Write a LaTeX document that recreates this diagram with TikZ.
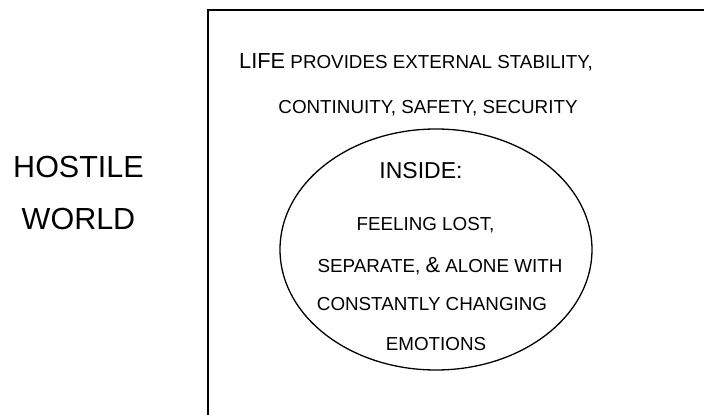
\documentclass[tikz,border=0pt]{standalone}
\usepackage{fontspec}
\setmainfont{Liberation Sans}
\usetikzlibrary{shapes.geometric}

\newcommand{\bigletters}[1]{{\fontsize{21.8}{24}\selectfont #1}}

\begin{document}
\begin{tikzpicture}[x=1pt,y=-1pt,
  world/.style={inner sep=0pt, anchor=base, font=\fontsize{30.5}{34}\selectfont},
  head/.style={inner sep=0pt, anchor=base, font=\fontsize{23}{26}\selectfont},
  line/.style={inner sep=0pt, anchor=base, font=\fontsize{18.8}{22}\selectfont},
  frame/.style={line width=2pt},
  self/.style={draw, ellipse, line width=1.3pt, minimum width=312pt, minimum height=241pt, inner sep=0pt},
  ]
  \useasboundingbox (0,0) rectangle (705,415);
  % ---- outside -------------------------------------------------------------
  \node[world] (hostile) at (78.5,177) {HOSTILE};
  \node[world] (worldlbl) at (78.5,229) {WORLD};
  % ---- life (open box) -----------------------------------------------------
  \draw[frame] (208,415) -- (208,10) -- (704,10);
  \node[line] (life) at (416,68) {\bigletters{LIFE} PROVIDES EXTERNAL STABILITY,};
  \node[line] (stable) at (428,113) {CONTINUITY, SAFETY, SECURITY};
  % ---- inside --------------------------------------------------------------
  \node[self] (inside) at (436,249.5) {};
  \node[head] (insidelbl) at (421,178) {INSIDE:};
  \node[line] (lost) at (425.5,230) {FEELING LOST,};
  \node[line] (alone) at (440,272) {SEPARATE, \bigletters{\&} ALONE WITH};
  \node[line] (changing) at (432,310) {CONSTANTLY CHANGING};
  \node[line] (emotions) at (436,350) {EMOTIONS};
\end{tikzpicture}
\end{document}
